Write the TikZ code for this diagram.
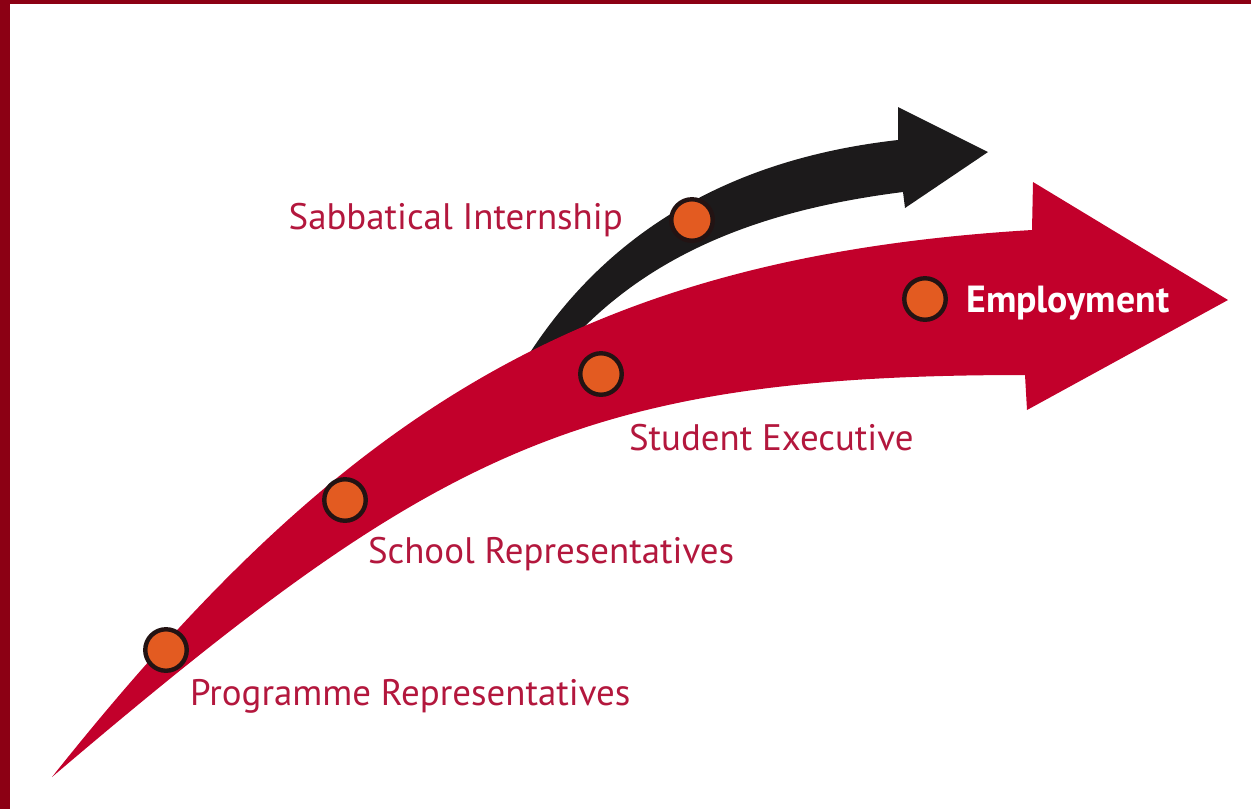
\documentclass[tikz,border=0pt]{standalone}
\usepackage{fontspec}
\setmainfont{PT Sans}
\usetikzlibrary{positioning}
\definecolor{framered}{HTML}{8C0014}
\definecolor{arrowred}{HTML}{C2002B}
\definecolor{arrowblack}{HTML}{1C1A1B}
\definecolor{textred}{HTML}{B3173D}
\definecolor{dotorange}{HTML}{E35B21}
\definecolor{dotrim}{HTML}{231313}

\begin{document}
\begin{tikzpicture}[x=0.02cm,y=-0.02cm,
    dot/.style={circle,fill=dotorange,draw=dotrim,line width=2.5pt,minimum size=0.83cm,inner sep=0pt},
    lbl/.style={text=textred,font=\fontsize{21}{25}\selectfont,inner sep=0pt}]

        % page and frame
        \useasboundingbox (0,0) rectangle (1251,809);
        \fill[framered] (0,0) rectangle (10,809);
        \fill[framered] (0,0) rectangle (1251,4);

        % black arrow (behind)
        \fill[arrowblack] (524,362) .. controls (600,240) and (720,160) .. (898,140) -- (898,107) -- (988,152) -- (905,208) -- (903,192) .. controls (760,210) and (640,255) .. (556,358) -- cycle;

        % red arrow
        \fill[arrowred] (52,777) .. controls (340,415) and (582,257) .. (1032,230)
            -- (1033,182) -- (1228,300) -- (1027,410) -- (1025,375)
            .. controls (575,375) and (432,454) .. (52,777) -- cycle;

        % dots
        \node[dot] (p1) at (166,650) {};
        \node[dot] (p2) at (345,500) {};
        \node[dot] (p3) at (601,374) {};
        \node[dot] (p4) at (692,220) {};
        \node[dot] (p5) at (925,299) {};

        % labels
        \node[lbl,below right=0.25cm and 0.15cm of p1] (prog) {Programme Representatives};
        \node[lbl,below right=0.42cm and 0.13cm of p2] (school) {School Representatives};
        \node[lbl,below right=0.68cm and 0.23cm of p3] (exec) {Student Executive};
        \node[lbl,left=0.92cm of p4] (sabb) {Sabbatical Internship};
        \node[lbl,right=0.36cm of p5,yshift=-0.08cm,text=white,font=\fontsize{21.5}{26}\selectfont\bfseries] (emp) {Employment};

\end{tikzpicture}
\end{document}
